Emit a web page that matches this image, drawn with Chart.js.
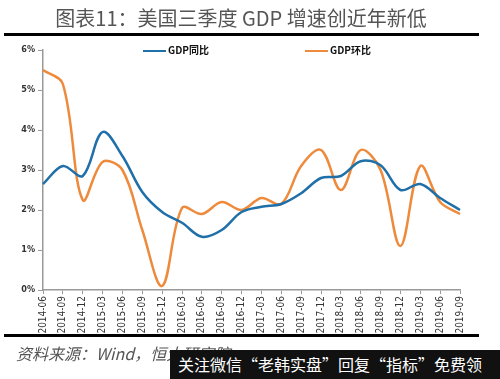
<!DOCTYPE html>
<html>
<head>
<meta charset="utf-8">
<script src="https://cdn.jsdelivr.net/npm/chart.js@4"></script>
<style>
  body { margin: 0; width: 500px; height: 379px; background: #fff; position: relative; overflow: hidden; }
  #wrap { position: absolute; left: 0; top: 0; width: 500px; height: 379px; }
  .title { position: absolute; left: 0; width: 482px; top: 3px; text-align: center;
    font-family: "Noto Sans CJK SC", serif; font-size: 20px; color: #555; }
  .rule { position: absolute; left: 4px; width: 475px; height: 3px; background: #000; }
  .leg { position: absolute; top: 42px; font-family: "Noto Sans CJK SC", sans-serif; font-weight: bold;
    font-size: 10px; color: #111; line-height: 16px; }
  .leg span { display: inline-block; width: 23px; height: 2px; vertical-align: middle; margin-right: 2px; }
  .src { position: absolute; left: 16px; top: 341px; font-family: "Noto Sans CJK SC", sans-serif;
    font-style: italic; font-size: 16px; color: #555; }
  .ad { position: absolute; left: 170px; top: 350px; width: 330px; height: 29px; background: #111;
    color: #fff; font-family: "Noto Sans CJK SC", sans-serif; font-size: 16px; line-height: 29px; padding-left: 8px; box-sizing: border-box; }
</style>
</head>
<body>
<div id="wrap"><canvas id="myChart" width="500" height="379"></canvas></div>
<div class="title">图表11：美国三季度 GDP 增速创近年新低</div>
<div class="rule" style="top:33px"></div>
<div class="rule" style="top:334px"></div>
<div class="leg" style="left:143px"><span style="background:#1f6fa8"></span>GDP同比</div>
<div class="leg" style="left:305px"><span style="background:#ee8a3c"></span>GDP环比</div>
<div class="src">资料来源：Wind，恒大研究院</div>
<div class="ad">关注微信“老韩实盘”回复“指标”免费领</div>

<script>
// 季度标签
const labels = ["2014-06", "2014-09", "2014-12", "2015-03", "2015-06", "2015-09", "2015-12",
  "2016-03", "2016-06", "2016-09", "2016-12", "2017-03", "2017-06", "2017-09", "2017-12",
  "2018-03", "2018-06", "2018-09", "2018-12", "2019-03", "2019-06", "2019-09"];

// GDP同比 (%)
const gdpYoy = [2.65, 3.1, 2.85, 3.95, 3.35, 2.45, 1.95, 1.68, 1.33, 1.5, 1.95, 2.08,
  2.15, 2.42, 2.8, 2.85, 3.22, 3.12, 2.5, 2.65, 2.3, 2.0];

// GDP环比 (%)
const gdpQoq = [5.5, 5.15, 2.25, 3.2, 3.0, 1.5, 0.1, 2.05, 1.9, 2.2, 2.0, 2.3,
  2.15, 3.1, 3.5, 2.5, 3.5, 3.0, 1.1, 3.1, 2.2, 1.9];

const yTicks = [0, 1, 2, 3, 4, 5, 6];

const data = {
  labels: labels,
  datasets: [
    {
      label: "GDP同比",
      borderColor: "#1f6fa8",
      backgroundColor: "#1f6fa8",
      borderWidth: 2.5,
      pointRadius: 0,
      tension: 0.35,
      data: gdpYoy
    },
    {
      label: "GDP环比",
      borderColor: "#ee8a3c",
      backgroundColor: "#ee8a3c",
      borderWidth: 2.5,
      pointRadius: 0,
      tension: 0.35,
      data: gdpQoq
    }
  ]
};

const config = {
  type: "line",
  data: data,
  options: {
    responsive: false,
    animation: false,
    layout: { padding: { top: 50, right: 40, left: 0, bottom: 0 } },
    plugins: { legend: { display: false }, tooltip: { enabled: false } },
    scales: {
      x: {
        offset: false,
        grid: { drawOnChartArea: false, color: "#999", tickLength: 4 },
        border: { color: "#999", width: 1.5 },
        ticks: {
          minRotation: 90, maxRotation: 90, autoSkip: false, padding: 2,
          color: "#333", font: { family: "DejaVu Sans Condensed, sans-serif", size: 10 }
        },
        afterFit: function (s) { s.height = 89; }
      },
      y: {
        min: 0, max: 6,
        afterBuildTicks: function (s) { s.ticks = yTicks.map(v => ({ value: v })); },
        grid: { drawOnChartArea: false, color: "#999", tickLength: 5 },
        border: { color: "#999", width: 1.5 },
        ticks: {
          padding: 3, color: "#333",
          font: { family: "DejaVu Sans Condensed, sans-serif", size: 9, weight: "bold" },
          callback: v => v + "%"
        },
        afterFit: function (s) { s.width = 43; }
      }
    }
  }
};

const myChart = new Chart(document.getElementById("myChart"), config);
</script>
</body>
</html>
